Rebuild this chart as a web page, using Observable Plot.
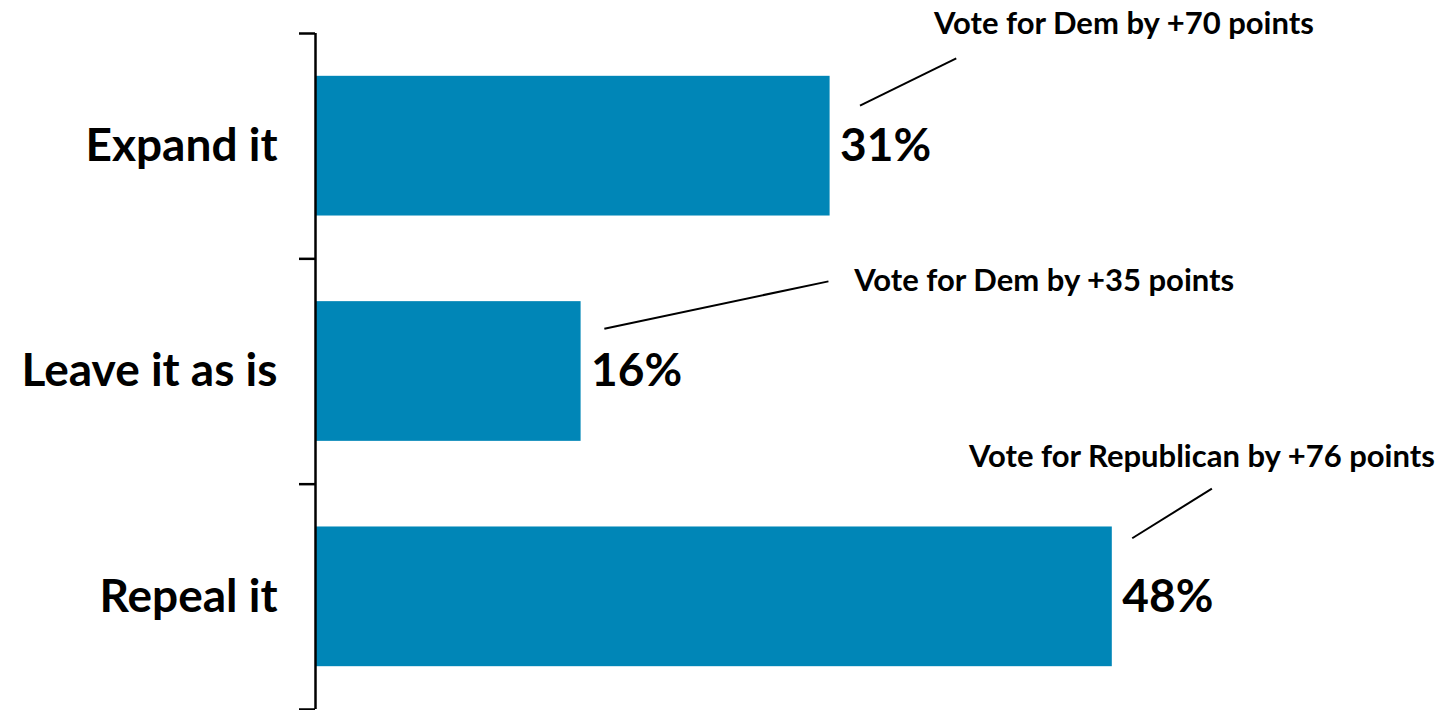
<!DOCTYPE html>
<html><head><meta charset="utf-8">
<script src="https://cdn.jsdelivr.net/npm/d3@7"></script>
<script src="https://cdn.jsdelivr.net/npm/@observablehq/plot@0.6"></script>
<style>html,body{margin:0;padding:0;background:#fff;overflow:hidden}</style>
</head><body><div id="chart"></div>
<script>
const categories = ["Expand it", "Leave it as is", "Repeal it"];
const values = [31, 16, 48];
const notes = ["Vote for Dem by +70 points", "Vote for Dem by +35 points", "Vote for Republican by +76 points"];
// annotation anchors: x in percent, y in row units (row i spans i..i+1, top to bottom)
const noteX = [48.7, 43.9, 53.4];
const noteY = [-0.04, 1.10, 1.88];
const leaderX1 = [32.8, 17.4, 49.2];
const leaderY1 = [0.32, 1.31, 2.24];
const leaderX2 = [38.6, 30.9, 54.0];
const leaderY2 = [0.11, 1.10, 2.02];
const rowBounds = [0, 1, 2, 3];

const rows = categories.map((c, i) => ({
  category: c, value: values[i], i,
  note: notes[i], nx: noteX[i], ny: noteY[i],
  lx1: leaderX1[i], ly1: leaderY1[i], lx2: leaderX2[i], ly2: leaderY2[i]
}));

const font = "Lato, 'Open Sans', sans-serif";

const chart = Plot.plot({
  width: 1450,
  height: 710,
  marginLeft: 315,
  marginRight: 139,
  marginTop: 33,
  marginBottom: 1,
  style: {fontFamily: font, background: "#fff", overflow: "visible"},
  x: {domain: [0, 60], axis: null},
  y: {domain: [0, 3], reverse: true, axis: null},
  marks: [
    Plot.rectX(rows, {x1: 0, x2: "value", y1: d => d.i + 0.19, y2: d => d.i + 0.81, fill: "#0086B7"}),
    Plot.ruleX([0], {y1: 0, y2: 3, stroke: "#000", strokeWidth: 2.5}),
    Plot.axisY({ticks: rowBounds, tickSize: 16, tickFormat: () => "", stroke: "#000", strokeWidth: 2.5, strokeOpacity: 1}),
    Plot.text(rows, {x: 0, y: d => d.i + 0.5, text: "category", textAnchor: "end", dx: -38, fontSize: 46, fontWeight: "bold", fill: "#000"}),
    Plot.text(rows, {x: "value", y: d => d.i + 0.5, text: d => d.value + "%", textAnchor: "start", dx: 10, fontSize: 46, fontWeight: "bold", fill: "#000"}),
    Plot.link(rows, {x1: "lx1", y1: "ly1", x2: "lx2", y2: "ly2", stroke: "#000", strokeWidth: 2}),
    Plot.text(rows, {x: "nx", y: "ny", text: "note", textAnchor: "middle", fontSize: 31, fontWeight: "bold", fill: "#000"})
  ]
});
document.getElementById("chart").appendChild(chart);
</script>
</body></html>
